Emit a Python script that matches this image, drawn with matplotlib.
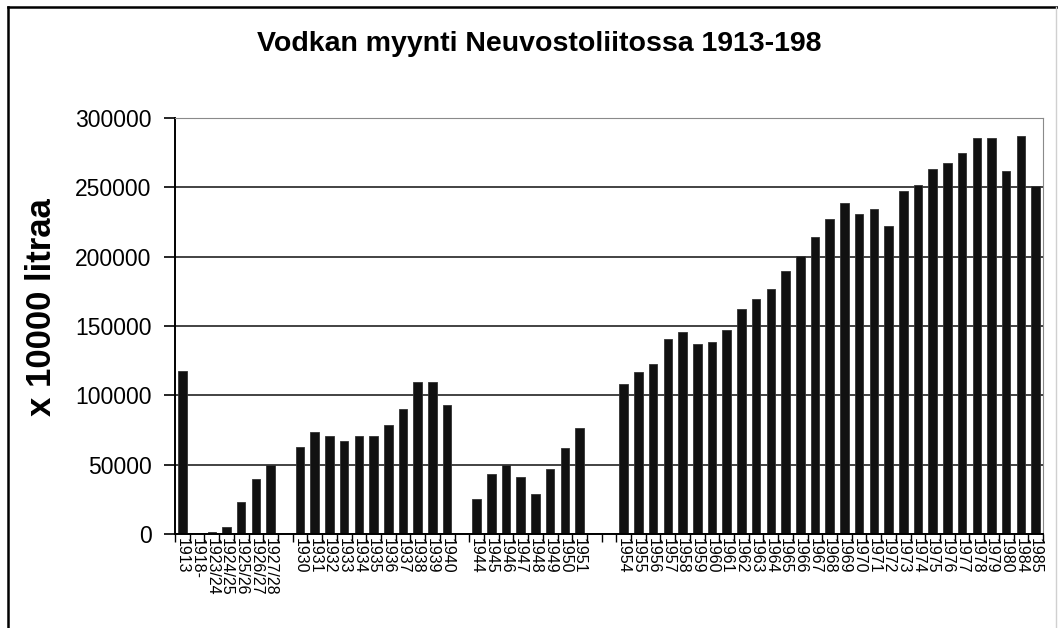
import numpy as np
import matplotlib
matplotlib.use('Agg')
from matplotlib import pyplot as plt
from matplotlib.lines import Line2D

plt.rcParams['font.family'] = ['Liberation Sans', 'DejaVu Sans']

# categories as they stand on the axis, '' = empty slot
years_a = ['1913', '1918-', '1923/24', '1924/25', '1925/26', '1926/27', '1927/28']
vals_a = [117800, np.nan, 1700, 5000, 23000, 39700, 50000]

years_b = ['1930', '1931', '1932', '1933', '1934', '1935', '1936', '1937',
           '1938', '1939', '1940']
vals_b = [62700, 73800, 70900, 67300, 70900, 70900, 78400, 90100,
          109400, 109400, 92800]

years_c = ['1944', '1945', '1946', '1947', '1948', '1949', '1950', '1951']
vals_c = [25200, 43300, 49800, 41100, 28800, 46600, 62300, 76700]

years_d = ['1954', '1955', '1956', '1957', '1958', '1959', '1960', '1961',
           '1962', '1963', '1964', '1965', '1966', '1967', '1968', '1969',
           '1970', '1971', '1972', '1973', '1974', '1975', '1976', '1977',
           '1978', '1979', '1980', '1984', '1985']
vals_d = [108400, 116800, 122600, 140900, 145700, 137000, 138500, 146900,
          162300, 169500, 176700, 189700, 200200, 213900, 227400, 239000,
          230800, 234400, 222100, 247600, 251900, 263000, 267800, 275000,
          285800, 285800, 261800, 286800, 251200]

labels = years_a + [''] + years_b + [''] + years_c + ['', ''] + years_d
values = vals_a + [np.nan] + vals_b + [np.nan] + vals_c + [np.nan, np.nan] + vals_d
values = np.array(values, dtype=float)
n = len(labels)
x = np.arange(n)

fig = plt.figure(figsize=(10.58, 6.28), dpi=100)
ax = fig.add_axes([175/1058, 1-534/628, 868/1058, 416/628])

ax.set_axisbelow(True)
ax.yaxis.grid(True, color='#222222', lw=1.2)
ax.bar(x, np.nan_to_num(values), width=0.58, color='#111111',
       edgecolor='#333333', lw=0.6)

ax.set_xlim(-0.5, n-0.5)
ax.set_ylim(0, 300000)
ax.set_yticks(np.arange(0, 300001, 50000))
ax.tick_params(axis='y', labelsize=16.5, length=8, width=1.2, pad=9)

ax.set_xticks(x, labels, rotation=270, fontsize=11.5)
ax.tick_params(axis='x', which='major', length=0, pad=3)
ax.set_xticks(np.arange(-0.5, n, 1), minor=True)
ax.tick_params(axis='x', which='minor', length=6, width=1.0, direction='out')

ax.spines['left'].set_color('black')
ax.spines['left'].set_lw(1.4)
ax.spines['bottom'].set_color('black')
ax.spines['bottom'].set_lw(1.4)
ax.spines['right'].set_color('#8a8a8a')
ax.spines['top'].set_color('#8a8a8a')

fig.text(539/1058, 1-44/628, 'Vodkan myynti Neuvostoliitossa 1913-198',
         ha='center', va='center', fontsize=20.5, fontweight='bold')
fig.text(42/1058, 1-307/628, 'x 10000 litraa', rotation=90,
         ha='center', va='center', fontsize=25, fontweight='bold')

# outer frame of the chart object
fig.add_artist(Line2D([8/1058, 8/1058], [0, 1-7/628], transform=fig.transFigure,
                      color='black', lw=1.8))
fig.add_artist(Line2D([8/1058, 1], [1-7/628, 1-7/628], transform=fig.transFigure,
                      color='black', lw=1.8))
fig.add_artist(Line2D([1056/1058, 1056/1058], [0, 1-7/628], transform=fig.transFigure,
                      color='#d0d0d0', lw=1.0))

fig.savefig('out.png', dpi=100)
